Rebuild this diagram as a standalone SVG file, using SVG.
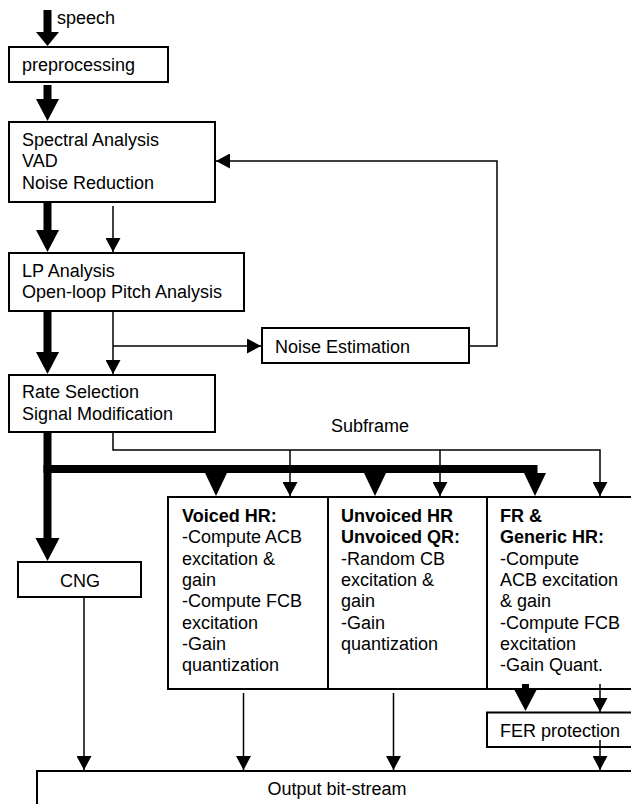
<svg xmlns="http://www.w3.org/2000/svg" width="631" height="804" viewBox="0 0 631 804">
<style>
text{font-family:"Liberation Sans",Arial,sans-serif;font-size:18px;fill:#000}
.b{font-weight:bold}
.box{fill:#fff;stroke:#000;stroke-width:2}
.thin{fill:none;stroke:#000;stroke-width:1.5}
.thk{fill:#000;stroke:none}
</style>
<defs>
<marker id="ah" markerUnits="userSpaceOnUse" markerWidth="15" markerHeight="15" refX="14" refY="7.5" orient="auto">
<path d="M0,0 L14,7.5 L0,15 z" fill="#000"/>
</marker>
</defs>
<rect width="631" height="804" fill="#fff"/>
<text x="57" y="24">speech</text>
<g id="preprocessing">
<rect class="box" x="9" y="47" width="159" height="35"/>
<text x="22" y="71">preprocessing</text>
</g>
<g id="spectral">
<rect class="box" x="9" y="122" width="206" height="80"/>
<text x="22" y="146">Spectral Analysis</text>
<text x="22" y="167">VAD</text>
<text x="22" y="189">Noise Reduction</text>
</g>
<g id="lp">
<rect class="box" x="9" y="253" width="235" height="58"/>
<text x="22" y="277">LP Analysis</text>
<text x="22" y="298">Open-loop Pitch Analysis</text>
</g>
<g id="noise">
<rect class="box" x="262" y="328" width="207" height="35"/>
<text x="275" y="353">Noise Estimation</text>
</g>
<g id="rate">
<rect class="box" x="9" y="375" width="206" height="57"/>
<text x="22" y="398">Rate Selection</text>
<text x="22" y="420">Signal Modification</text>
</g>
<text x="370" y="432" text-anchor="middle">Subframe</text>
<g id="cng">
<rect class="box" x="18" y="562" width="123" height="35"/>
<text x="80" y="587" text-anchor="middle">CNG</text>
</g>
<g id="voiced">
<rect class="box" x="168" y="497" width="160" height="192"/>
<text x="182" y="522" class="b">Voiced HR:</text>
<text x="182" y="543.3">-Compute ACB</text>
<text x="182" y="564.6">excitation &amp;</text>
<text x="182" y="585.9">gain</text>
<text x="182" y="607.2">-Compute FCB</text>
<text x="182" y="628.5">excitation</text>
<text x="182" y="649.8">-Gain</text>
<text x="182" y="671.1">quantization</text>
</g>
<g id="unvoiced">
<rect class="box" x="328" y="497" width="159" height="192"/>
<text x="341" y="522" class="b">Unvoiced HR</text>
<text x="341" y="543.3" class="b">Unvoiced QR:</text>
<text x="341" y="564.6">-Random CB</text>
<text x="341" y="585.9">excitation &amp;</text>
<text x="341" y="607.2">gain</text>
<text x="341" y="628.5">-Gain</text>
<text x="341" y="649.8">quantization</text>
</g>
<g id="fr">
<rect class="box" x="487" y="497" width="160" height="192"/>
<text x="500" y="522" class="b">FR &amp;</text>
<text x="500" y="543.3" class="b">Generic HR:</text>
<text x="500" y="564.6">-Compute</text>
<text x="500" y="585.9">ACB excitation</text>
<text x="500" y="607.2">&amp; gain</text>
<text x="500" y="628.5">-Compute FCB</text>
<text x="500" y="649.8">excitation</text>
<text x="500" y="671.1">-Gain Quant.</text>
</g>
<g id="fer">
<rect class="box" x="487" y="712.5" width="160" height="34.5"/>
<text x="500" y="737">FER protection</text>
</g>
<g id="output">
<rect class="box" x="37" y="771" width="620" height="60"/>
<text x="337" y="795" text-anchor="middle">Output bit-stream</text>
</g>
<g id="connectors">
<rect class="thk" x="43.5" y="10" width="8" height="23"/>
<polygon class="thk" points="36,32 59,32 47.5,46"/>
<rect class="thk" x="43.5" y="85" width="8" height="15"/>
<polygon class="thk" points="36,99 59,99 47.5,121"/>
<rect class="thk" x="43.5" y="203" width="8" height="28"/>
<polygon class="thk" points="36,230 59,230 47.5,252"/>
<rect class="thk" x="43.5" y="312" width="8" height="41"/>
<polygon class="thk" points="36,352 59,352 47.5,374"/>
<rect class="thk" x="43.5" y="433" width="8" height="106"/>
<polygon class="thk" points="35.5,538 59.5,538 47.5,561"/>
<rect class="thk" x="43.5" y="465" width="494" height="8"/>
<polygon class="thk" points="205,473 227,473 216,496"/>
<polygon class="thk" points="364,473 386,473 375,496"/>
<polygon class="thk" points="524,473 546,473 535,496"/>
<rect class="thk" x="522" y="684" width="7" height="7"/>
<polygon class="thk" points="514.5,690 536.5,690 525.5,711"/>
<path class="thin" d="M113,206 V252" marker-end="url(#ah)"/>
<path class="thin" d="M113,312 V374" marker-end="url(#ah)"/>
<path class="thin" d="M113,346 H261" marker-end="url(#ah)"/>
<path class="thin" d="M470,346 H497 V161 H216" marker-end="url(#ah)"/>
<path class="thin" d="M113,433 V450 H600 V496" marker-end="url(#ah)"/>
<path class="thin" d="M290,450 V496" marker-end="url(#ah)"/>
<path class="thin" d="M440,450 V496" marker-end="url(#ah)"/>
<path class="thin" d="M84,598 V770" marker-end="url(#ah)"/>
<path class="thin" d="M243.5,693 V770" marker-end="url(#ah)"/>
<path class="thin" d="M393.5,693 V770" marker-end="url(#ah)"/>
<path class="thin" d="M600,684 V712" marker-end="url(#ah)"/>
<path class="thin" d="M600,740 V770" marker-end="url(#ah)"/>
</g>
</svg>
